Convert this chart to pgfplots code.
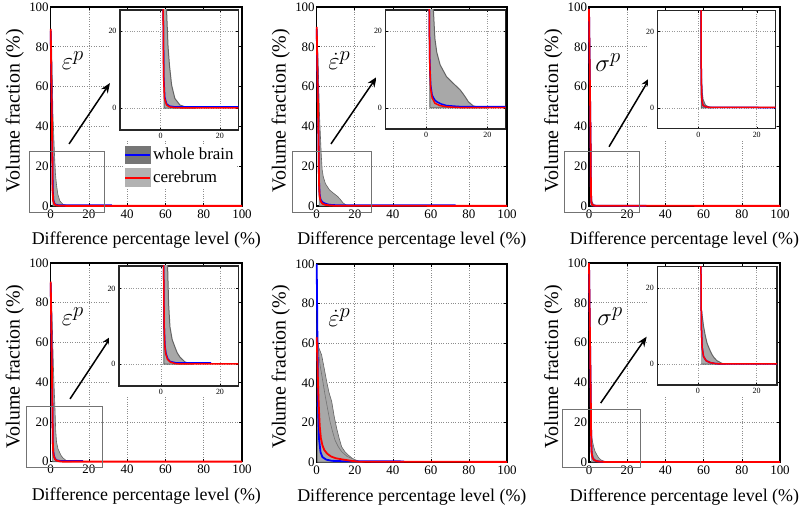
\documentclass[border=0pt]{standalone}
\usepackage{fontspec}
\setmainfont{Liberation Serif}
\usepackage{pgfplots}
\pgfplotsset{compat=1.18}
\usepackage{pgfplotstable}
\usetikzlibrary{arrows.meta}

\definecolor{bandfill}{RGB}{168,168,168}
\definecolor{bandedge}{RGB}{100,100,100}
\definecolor{legdark}{RGB}{118,118,118}
\definecolor{leglight}{RGB}{178,178,178}

% ---------------- Panel 1 (eps^p, top) ----------------
\pgfplotstableread{
x y
0.2 88
0.5 80
1.2 45
2.0 25.5
2.5 16
3.0 11
3.7 6
4.8 2.5
6.5 0.8
8.8 0.2
12 0
1.2 0
0.9 30
0.1 80
}\bandA
\pgfplotstableread{
x y
0 88
0.85 26
1.05 8
1.4 2.8
2 1.1
3 0.5
5 0.3
32 0.3
}\blueA
\pgfplotstableread{
x y
0 89
0.85 26
1.0 8
1.3 2.5
2 0.8
3 0.3
5 0.1
10 0.05
100 0.05
}\redA
% ---------------- Panel 2 (epsdot^p, top) ----------------
\pgfplotstableread{
x y
0.2 88
0.8 70
1.5 45
2.4 25.5
2.9 18
3.5 14.5
4.6 11.2
6.7 8.1
9 6.3
11.1 4.7
12.5 3.2
13.8 1.6
15.4 0.5
17.6 0.1
20 0
1.3 0
1.0 30
0.1 80
}\bandB
\pgfplotstableread{
x y
0 89
1.0 30
1.2 13
1.5 6
2.0 3.3
2.8 2.1
3.5 1.6
5 1.0
6.7 0.6
10 0.4
12 0.3
73 0.3
}\blueB
\pgfplotstableread{
x y
0 90
1.0 30
1.2 12
1.5 5
2.0 2.6
2.9 1.2
4.5 0.6
6.7 0.3
10 0.1
100 0.05
}\redB
% ---------------- Panel 3 (sigma^p, top) ----------------
\pgfplotstableread{
x y
0.2 97
0.95 25
1.05 8
1.3 4
1.6 2.2
2.4 0.7
3.5 0.2
5 0
1.0 0
0.85 30
0.1 90
}\bandC
\pgfplotstableread{
x y
0 99
0.9 26
1.0 8
1.2 2
1.6 0.6
2.5 0.25
4 0.1
30 0.05
}\blueC
\pgfplotstableread{
x y
0 99
0.9 26
1.0 8
1.2 2
1.6 0.6
2.5 0.25
4 0.1
100 0.05
}\redC
% ---------------- Panel 4 (eps^p, bottom) ----------------
\pgfplotstableread{
x y
0.2 89
0.8 70
1.5 45
2.26 26
2.6 16
3.05 9.9
3.8 6.5
4.7 4.6
5.5 3
6.4 1.9
8.1 0.6
9.8 0.1
11 0
1.0 0
0.85 30
0.1 85
}\bandD
\pgfplotstableread{
x y
0 90
0.9 27
1.1 10
1.35 5
1.7 2.9
2.3 1.4
3.1 0.7
5 0.35
17 0.3
}\blueD
\pgfplotstableread{
x y
0 90.6
0.9 27
1.1 10
1.3 5
1.6 2.8
2.2 1.3
3.05 0.6
4.5 0.2
6 0.05
100 0.05
}\redD
% ---------------- Panel 5 (epsdot^p, bottom) ----------------
\pgfplotstableread{
x y
0 98
0.2 80
0.35 63
1.0 58
2.6 54
4 47
5.25 40.6
6.5 35
7.9 30.5
9.2 23
10.5 17
11.8 12
13.1 7.7
14.8 5.2
16.6 3.5
18.5 2
20.1 1.0
22 0.2
24 0
0.5 0
0.3 30
0.1 70
}\bandE
\pgfplotstableread{
x y
0.3 62
1.75 49
3 42
4.4 33.8
5.7 27
7 20.4
8.3 15.5
9.6 11.1
11.3 7.8
13.1 5.2
16 2.8
19.2 1.5
22 0.5
24 0
0.5 0
0.3 30
}\bandEE
\pgfplotstableread{
x y
0 100
0.2 80
0.4 60
0.6 40
0.8 25
1.2 12
2 5
3 2.5
5 1.2
8 0.6
15 0.35
46 0.3
}\blueE
\pgfplotstableread{
x y
0 63
0.4 50
0.8 36
1.2 26
1.6 18
2.2 12
3 8.5
4 6
5.5 4.2
7.5 2.8
10 1.9
14 1.2
19 0.5
22 0.15
100 0.05
}\redE
% ---------------- Panel 6 (sigma^p, bottom) ----------------
\pgfplotstableread{
x y
1.1 15
1.4 13
1.9 10
2.5 7.5
3.1 5.5
4 3.8
4.8 2.5
5.6 1.6
6.5 0.9
8.2 0.2
9.5 0
1.1 0
}\bandF
\pgfplotstableread{
x y
0 100
1.0 27
1.15 10
1.4 4.5
1.9 2
2.8 0.9
4.2 0.4
6 0.15
8 0.05
30 0.05
}\blueF
\pgfplotstableread{
x y
0 100
1.0 27
1.15 10
1.4 4.5
1.9 2
2.8 0.9
4.2 0.4
6 0.15
8 0.05
100 0.05
}\redF

\newcommand{\series}[3]{%
  \addplot[bandsty, forget plot] table {#1};
  \addplot[bluesty, forget plot] table {#2};
  \addplot[redsty, forget plot] table {#3};
}

\tikzset{
  zrect/.style={black!55, line width=0.8bp},
  arr/.style={-{Stealth[length=10bp,width=8bp]}, line width=1.5bp, black},
  symb/.style={font=\fontsize{30}{32}\selectfont},
}

\pgfplotsset{
  bandsty/.style={fill=bandfill, draw=bandedge, line width=0.6bp},
  bluesty/.style={color=blue, line width=1.8bp},
  redsty/.style={color=red, line width=1.8bp},
  mainax/.style={
    scale only axis, anchor=south west,
    xmin=0, xmax=100, ymin=0, ymax=100,
    xtick={0,20,...,100}, ytick={0,20,...,100},
    grid=major, grid style={dotted, black!45, line width=0.6bp},
    axis line style={black, line width=1.4bp},
    tick align=inside, major tick length=3bp, tick style={black, line width=0.6bp},
    ticklabel style={font=\fontsize{13}{15}\selectfont},
    yticklabel style={xshift=1.5bp},
    /pgf/number format/assume math mode=true,
    clip=false,
    xlabel={Difference percentage level (\%)},
    ylabel={Volume fraction (\%)},
    xlabel style={font=\fontsize{18}{20}\selectfont, at={([yshift=-39bp]axis description cs:0.5,0)}, anchor=base},
    ylabel style={font=\fontsize{20}{22}\selectfont, at={([xshift=-31bp,yshift=-4bp]axis description cs:0,0.5)}, anchor=base},
  },
  insetax/.style={
    scale only axis, anchor=south west,
    xtick={0,20}, ytick={0,20},
    grid=major, grid style={dotted, black!40, line width=0.5bp},
    axis line style={black!85, line width=1.1bp},
    tick align=inside, major tick length=2bp, tick style={black, line width=0.4bp},
    ticklabel style={font=\fontsize{8}{9}\selectfont},
    /pgf/number format/assume math mode=true,
    axis background/.style={fill=white},
    bandsty/.style={fill=bandfill, draw=bandedge, line width=1bp},
    bluesty/.style={color=blue, line width=1.5bp},
    redsty/.style={color=red, line width=1.5bp},
  },
}

\begin{document}
\begin{tikzpicture}
\useasboundingbox (0bp,0bp) rectangle (800bp,509bp);

% ================= Panel 1 =================
\begin{axis}[mainax, at={(50.7bp,303bp)}, width=191.3bp, height=199bp,
  legend style={at={(axis description cs:0.378,0.307)}, anchor=north west, draw=none, fill=white,
    inner sep=1bp, font=\fontsize{17}{19}\selectfont, row sep=5bp, legend cell align=left,
    /tikz/every even column/.append style={column sep=2bp}}]
\series{\bandA}{\blueA}{\redA}
\draw[zrect] (axis cs:-11.3,-3) rectangle (axis cs:27.9,27.6);
\draw[arr] (axis cs:9.6,31.2) -- (axis cs:31,61.8);
\node[symb] at (axis cs:11.6,73) {$\varepsilon^{p}$};
\addlegendimage{legend image code/.code={\fill[legdark] (0bp,-8.5bp) rectangle (25bp,8.5bp); \draw[blue, line width=2bp] (0bp,0bp) -- (25bp,0bp);}}
\addlegendentry{whole brain}
\addlegendimage{legend image code/.code={\fill[leglight] (0bp,-9bp) rectangle (25bp,9bp); \draw[red, line width=2bp] (0bp,0bp) -- (25bp,0bp);}}
\addlegendentry{cerebrum}
\end{axis}
\fill[white] (110bp,368bp) rectangle (238.3bp,499bp);
\begin{axis}[insetax, at={(120bp,379bp)}, width=118.3bp, height=120bp,
  xmin=-13.7, xmax=26.2, ymin=-5.7, ymax=25.5]
\series{\bandA}{\blueA}{\redA}
\end{axis}

% ================= Panel 2 =================
\begin{axis}[mainax, at={(316.7bp,303bp)}, width=190.3bp, height=199bp]
\series{\bandB}{\blueB}{\redB}
\draw[zrect] (axis cs:-12.6,-3.2) rectangle (axis cs:28.9,27.3);
\draw[arr] (axis cs:7.5,31.2) -- (axis cs:31.5,64.8);
\node[symb] at (axis cs:11.9,73) {$\dot{\varepsilon}^{p}$};
\end{axis}
\fill[white] (376bp,369bp) rectangle (505.5bp,499bp);
\begin{axis}[insetax, at={(385.5bp,380bp)}, width=120bp, height=119bp,
  xmin=-13.2, xmax=25.9, ymin=-5.5, ymax=25.5]
\series{\bandB}{\blueB}{\redB}
\end{axis}

% ================= Panel 3 =================
\begin{axis}[mainax, at={(589bp,303bp)}, width=191bp, height=199bp]
\series{\bandC}{\blueC}{\redC}
\draw[zrect] (axis cs:-13,-3.2) rectangle (axis cs:26.3,27.3);
\draw[arr] (axis cs:10.5,29.8) -- (axis cs:32,64.5);
\node[symb] at (axis cs:10,72) {$\sigma^{p}$};
\end{axis}
\fill[white] (648bp,369bp) rectangle (775.7bp,498.3bp);
\begin{axis}[insetax, at={(657.5bp,380.3bp)}, width=118.2bp, height=118bp,
  xmin=-14, xmax=26.5, ymin=-5.5, ymax=25.5]
\series{\bandC}{\blueC}{\redC}
\end{axis}

% ================= Panel 4 =================
\begin{axis}[mainax, at={(50.7bp,47.3bp)}, width=191.3bp, height=198.7bp]
\series{\bandD}{\blueD}{\redD}
\draw[zrect] (axis cs:-12.9,-3) rectangle (axis cs:26.9,27.7);
\draw[arr] (axis cs:10.1,31.6) -- (axis cs:31.8,63.3);
\node[symb] at (axis cs:11.6,73) {$\varepsilon^{p}$};
\end{axis}
\fill[white] (109bp,112bp) rectangle (238.3bp,243bp);
\begin{axis}[insetax, at={(119bp,123bp)}, width=119.3bp, height=120bp,
  xmin=-14.2, xmax=26.2, ymin=-5.8, ymax=26]
\series{\bandD}{\blueD}{\redD}
\end{axis}

% ================= Panel 5 =================
\begin{axis}[mainax, at={(316.7bp,47bp)}, width=190.3bp, height=198bp]
\addplot[bandsty, forget plot] table {\bandE};
\addplot[bandsty, draw=black!55, forget plot] table {\bandEE};
\addplot[bluesty, forget plot] table {\blueE};
\addplot[redsty, forget plot] table {\redE};
\node[symb] at (axis cs:11.9,73) {$\dot{\varepsilon}^{p}$};
\end{axis}

% ================= Panel 6 =================
\begin{axis}[mainax, at={(589bp,47bp)}, width=191bp, height=199bp]
\series{\bandF}{\blueF}{\redF}
\draw[zrect] (axis cs:-14,-2.9) rectangle (axis cs:26.8,26.6);
\draw[arr] (axis cs:6.1,29.6) -- (axis cs:30.2,63);
\node[symb] at (axis cs:11,73) {$\sigma^{p}$};
\end{axis}
\fill[white] (648bp,113bp) rectangle (777bp,242.3bp);
\begin{axis}[insetax, at={(657.3bp,124bp)}, width=119.7bp, height=118.3bp,
  xmin=-13.9, xmax=27, ymin=-5.5, ymax=25.7]
\series{\bandF}{\blueF}{\redF}
\end{axis}

\end{tikzpicture}
\end{document}
